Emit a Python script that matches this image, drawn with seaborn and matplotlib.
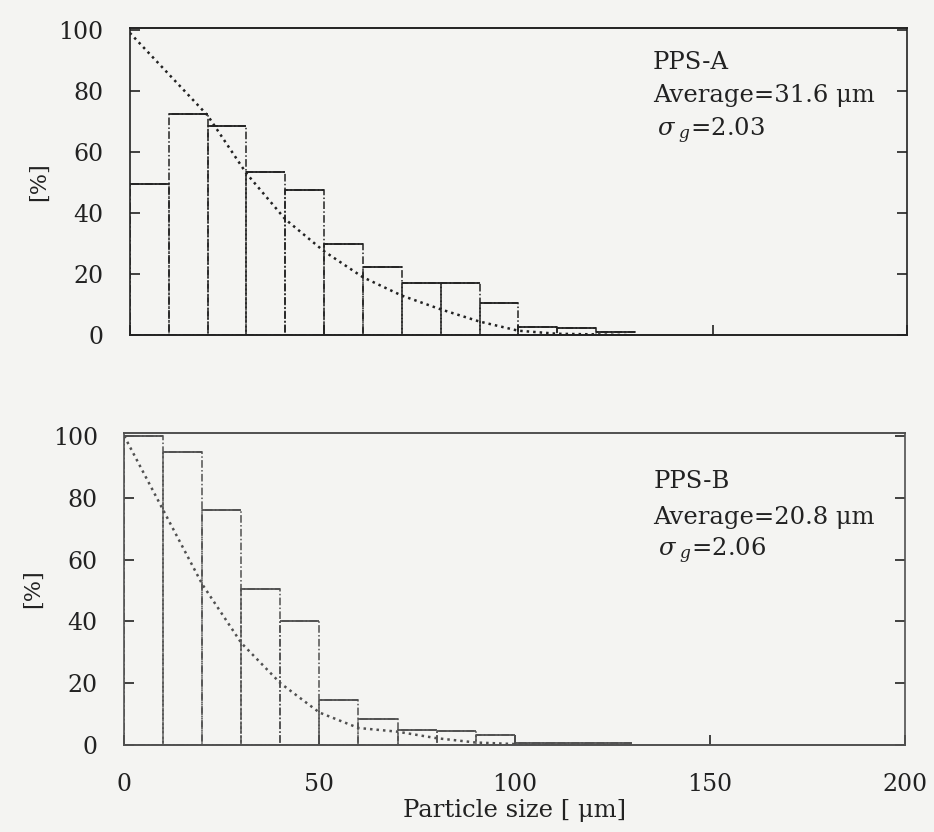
import numpy as np
import pandas as pd
import matplotlib
matplotlib.use('Agg')
import matplotlib.pyplot as plt
import seaborn as sns

## bin edges of the size classes [um]
edges = list(range(0, 140, 10))
centers = [e + 5 for e in edges[:-1]]

## PPS-A
bars_a = [49.5, 72.5, 68.5, 53.5, 47.5, 30, 22.5, 17, 17, 10.5, 2.6, 2.5, 1.2]
cum_a = [99, 85.5, 72, 53, 38, 27.5, 19, 13, 8.5, 4.5, 1.5, 0.5, 0.3, 0]

## PPS-B
bars_b = [100, 95, 76, 50.5, 40, 14.5, 8.5, 5, 4.5, 3.2, 0.8, 0.6, 0.5]
cum_b = [100, 76, 52, 33, 20, 10.5, 5.5, 4.3, 2.2, 0.8, 0.3, 0.2, 0.1, 0]

labels = ['PPS-A', 'PPS-B']
averages = ['31.6', '20.8']
sigmas = ['2.03', '2.06']
yticks = [0, 20, 40, 60, 80, 100]
xticks = [0, 50, 100, 150, 200]

sns.set_style('white')
plt.rcParams['font.family'] = ['DejaVu Serif', 'DejaVu Sans']
plt.rcParams['mathtext.fontset'] = 'dejavuserif'

bg = '#f4f4f2'
txt = '#222222'
fig = plt.figure(figsize=(9.34, 8.32), dpi=100, facecolor=bg)
ax_a = fig.add_axes([0.139, 0.597, 0.832, 0.369])
ax_b = fig.add_axes([0.133, 0.1046, 0.836, 0.375])

## (axes, bars, curve, colour, ylim top, text x, text y's)
panels = [(ax_a, bars_a, cum_a, '#222222', 100.5, 0.673, [0.925, 0.82, 0.715]),
          (ax_b, bars_b, cum_b, '#505050', 101, 0.678, [0.88, 0.765, 0.67])]

for i, (ax, bars, cum, col, ytop, tx, ty) in enumerate(panels):
    ax.set_facecolor(bg)
    df = pd.DataFrame({'size': centers, 'w': bars})
    sns.histplot(data=df, x='size', weights='w', bins=edges, ax=ax,
                 element='bars', fill=False, color=col,
                 linewidth=1.1, linestyle=(0, (5, 1.5, 1, 1.5)))
    ## solid tops of the bars
    ax.hlines(bars, edges[:-1], edges[1:], color=col, linewidth=1.3)

    cdf = pd.DataFrame({'size': edges, 'cum': cum})
    sns.lineplot(data=cdf, x='size', y='cum', ax=ax, color=col,
                 linewidth=1.8, linestyle=(0, (1, 1.6)))

    ax.set_xlim(0, 200)
    ax.set_ylim(0, ytop)
    ax.set_yticks(yticks)
    ax.set_xticks(xticks)
    ax.tick_params(direction='in', length=7, width=1.2, labelsize=17,
                   colors=txt, right=True, bottom=True, left=True)
    ax.tick_params(axis='y', pad=19)
    ax.set_ylabel('[%]', fontsize=16, color=txt, labelpad=6)
    ax.set_xlabel('')
    for s in ['top', 'bottom']:
        ax.spines[s].set_color(col)
        ax.spines[s].set_linewidth(1.4)
    for s in ['left', 'right']:
        ax.spines[s].set_color(col)
        ax.spines[s].set_linewidth(1.2)
        ax.spines[s].set_linestyle((0, (2, 1)))

    ax.text(tx, ty[0], labels[i], transform=ax.transAxes, fontsize=17.5,
            color=txt, va='top')
    ax.text(tx, ty[1], 'Average=' + averages[i] + ' \u03bcm',
            transform=ax.transAxes, fontsize=17.5, color=txt, va='top')
    ax.text(tx + 0.005, ty[2], r'$\sigma_{\ g}$=' + sigmas[i],
            transform=ax.transAxes, fontsize=17.5, color=txt, va='top')

ax_a.tick_params(labelbottom=False)
ax_b.tick_params(axis='x', pad=20)
ax_b.set_xlabel('Particle size [ \u03bcm]', fontsize=17.5, color=txt,
                labelpad=2)

fig.savefig('out.png', dpi=100, facecolor=bg)
